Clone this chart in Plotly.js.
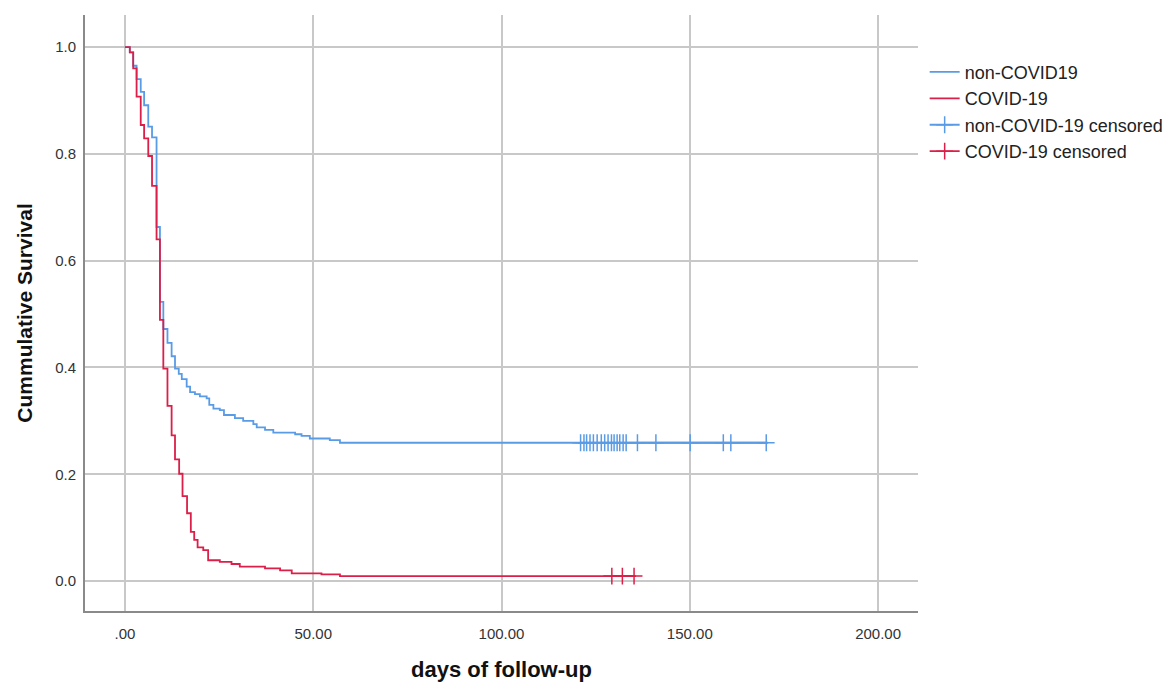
<!DOCTYPE html>
<html>
<head>
<meta charset="utf-8">
<script src="https://cdn.plot.ly/plotly-3.0.1.min.js"></script>
<style>html,body{margin:0;padding:0;background:#fff;}#chart{width:1170px;height:682px;}</style>
</head>
<body>
<div id="chart"></div>
<script>
// non-COVID19 Kaplan-Meier steps (time in days, cumulative survival after step)
const nonCovidTime = [0, 1.3, 2.2, 3.1, 4.2, 5.1, 6.2, 7.2, 8.4, 9.3, 10.2, 11.3, 12.4, 13.3, 14.3, 15.1, 16.4, 17.3, 18.6, 19.9, 21.7, 22.4, 23.5, 25.2, 26.3, 29.2, 31.4, 34.1, 35.0, 37.2, 39.4, 45.2, 46.9, 49.1, 54.4, 57.1, 170.8];
const nonCovidSurv = [1.0, 0.99, 0.965, 0.94, 0.916, 0.891, 0.851, 0.831, 0.663, 0.523, 0.472, 0.446, 0.421, 0.398, 0.388, 0.378, 0.364, 0.354, 0.350, 0.346, 0.342, 0.330, 0.323, 0.320, 0.311, 0.305, 0.300, 0.294, 0.288, 0.283, 0.278, 0.275, 0.272, 0.267, 0.264, 0.259, 0.259];
// COVID-19 Kaplan-Meier steps
const covidTime = [0, 1.3, 2.2, 3.1, 4.2, 5.1, 6.2, 7.2, 8.4, 9.3, 10.2, 11.3, 12.4, 13.3, 14.4, 15.3, 16.5, 17.5, 18.4, 19.3, 20.8, 22.1, 25.2, 28.3, 30.5, 37.2, 41.2, 44.3, 52.2, 57.1, 135.7];
const covidSurv = [1.0, 0.99, 0.96, 0.907, 0.854, 0.829, 0.796, 0.74, 0.64, 0.489, 0.398, 0.328, 0.273, 0.228, 0.201, 0.159, 0.127, 0.092, 0.077, 0.063, 0.058, 0.039, 0.036, 0.032, 0.027, 0.024, 0.020, 0.0145, 0.0125, 0.0094, 0.0094];
// censored observations
const nonCovidCensTime = [121.0, 121.9, 122.6, 123.5, 124.4, 125.4, 126.5, 127.4, 128.3, 129.2, 129.9, 130.7, 131.4, 132.3, 133.1, 136.1, 141.0, 150.1, 158.9, 160.9, 170.3];
const nonCovidCensSurv = nonCovidCensTime.map(() => 0.259);
const covidCensTime = [129.3, 132.1, 135.2];
const covidCensSurv = covidCensTime.map(() => 0.0094);
// axis ticks
const xTickVals = [0, 50, 100, 150, 200];
const xTickText = ['.00', '50.00', '100.00', '150.00', '200.00'];
const yTickVals = [0, 0.2, 0.4, 0.6, 0.8, 1.0];

const blue = '#5a9be6';
const red = '#dc1f48';
const font = 'Liberation Sans, Arial, sans-serif';

const traces = [
  {x: nonCovidTime, y: nonCovidSurv, name: 'non-COVID19', mode: 'lines',
   line: {color: blue, width: 1.8, shape: 'hv'}},
  {x: covidTime, y: covidSurv, name: 'COVID-19', mode: 'lines',
   line: {color: red, width: 1.8, shape: 'hv'}},
  {x: nonCovidCensTime, y: nonCovidCensSurv, name: 'non-COVID-19 censored', mode: 'lines+markers',
   line: {color: blue, width: 1.8},
   marker: {symbol: 'cross-thin', size: 12, line: {color: blue, width: 1.5}}},
  {x: covidCensTime, y: covidCensSurv, name: 'COVID-19 censored', mode: 'lines+markers',
   line: {color: red, width: 1.8},
   marker: {symbol: 'cross-thin', size: 12, line: {color: red, width: 1.5}}}
];

const layout = {
  width: 1170, height: 682,
  margin: {l: 85, r: 252, t: 15, b: 71, autoexpand: false},
  paper_bgcolor: '#fff', plot_bgcolor: '#fff',
  font: {family: font, size: 15, color: '#333'},
  showlegend: true,
  legend: {x: 1.008, xanchor: 'left', y: 0.935, yanchor: 'top',
    font: {family: font, size: 18, color: '#222'}, tracegroupgap: 0,
    bgcolor: 'rgba(0,0,0,0)'},
  xaxis: {
    range: [-10.6, 210.6], tickvals: xTickVals, ticktext: xTickText,
    showgrid: true, gridcolor: '#c8c8c8', gridwidth: 2,
    zeroline: false, showline: true, linecolor: '#8a8a8a', linewidth: 2,
    ticks: '', ticklen: 0, ticklabelstandoff: 8,
    tickfont: {family: font, size: 15, color: '#333'},
    title: {text: '<b>days of follow-up</b>', font: {family: font, size: 22, color: '#111'}, standoff: 22}
  },
  yaxis: {
    range: [-0.056, 1.06], tickvals: yTickVals, tickformat: '.1f',
    showgrid: true, gridcolor: '#c8c8c8', gridwidth: 2,
    zeroline: false, showline: true, linecolor: '#8a8a8a', linewidth: 2,
    ticks: '', ticklen: 0, ticklabelstandoff: 4,
    tickfont: {family: font, size: 15, color: '#333'},
    title: {text: '<b>Cummulative Survival</b>', font: {family: font, size: 21, color: '#111'}, standoff: 17}
  }
};

Plotly.newPlot('chart', traces, layout, {displayModeBar: false, staticPlot: true});
</script>
</body>
</html>
